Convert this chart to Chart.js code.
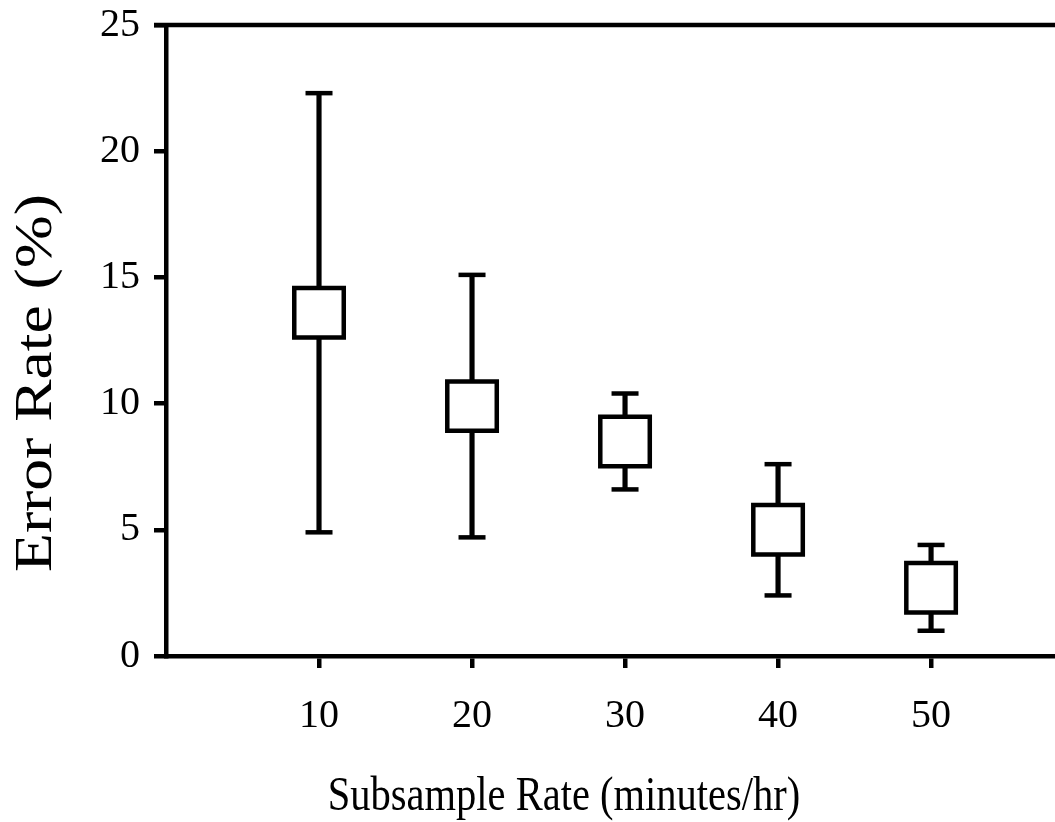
<!DOCTYPE html>
<html>
<head>
<meta charset="utf-8">
<script src="https://cdn.jsdelivr.net/npm/chart.js@4.4.1/dist/chart.umd.min.js"></script>
<style>
  html, body { margin: 0; padding: 0; background: #fff; overflow: hidden; }
  #wrap { width: 1055px; height: 822px; position: relative; }
</style>
</head>
<body>
<div id="wrap"><canvas id="c"></canvas></div>
<script>
// ---- data ----
const subsampleRates = [10, 20, 30, 40, 50];
const meanError      = [13.6, 9.9, 8.5, 5.0, 2.7];
const upperError     = [22.3, 15.1, 10.4, 7.6, 4.4];
const lowerError     = [4.9, 4.7, 6.6, 2.4, 1.0];
const yTicks = [0, 5, 10, 15, 20, 25];
const xTicks = [10, 20, 30, 40, 50];
const yTitle = 'Error Rate (%)';
const xTitle = 'Subsample Rate (minutes/hr)';

const FONT = "'Liberation Serif', 'Times New Roman', serif";

const boxPoints = subsampleRates.map((x, i) => ({ x: x, y: meanError[i] }));
const whiskers  = subsampleRates.map((x, i) => ({ x: x, y: [lowerError[i], upperError[i]] }));
const capPoints = subsampleRates.map((x, i) => ({ x: x, y: upperError[i] }))
                  .concat(subsampleRates.map((x, i) => ({ x: x, y: lowerError[i] })));

// top frame line and the axis titles (drawn as canvas text)
const framePlugin = {
  id: 'framePlugin',
  afterDraw(chart) {
    const { ctx, chartArea } = chart;
    ctx.save();
    ctx.strokeStyle = '#000';
    ctx.lineWidth = 4.5;
    ctx.beginPath();
    ctx.moveTo(chartArea.left - 12, chartArea.top);
    ctx.lineTo(chartArea.right, chartArea.top);
    ctx.stroke();
    ctx.restore();

    // vertical axis title
    ctx.save();
    ctx.translate(37, 383);
    ctx.rotate(-Math.PI / 2);
    ctx.scale(1.2, 1);
    ctx.font = '53px ' + FONT;
    ctx.fillStyle = '#000';
    ctx.textAlign = 'center';
    ctx.textBaseline = 'middle';
    ctx.fillText(yTitle, 0, 0);
    ctx.restore();

    // horizontal axis title
    ctx.save();
    ctx.translate(564, 810);
    ctx.scale(1, 1.2);
    ctx.font = '40.5px ' + FONT;
    ctx.fillStyle = '#000';
    ctx.textAlign = 'center';
    ctx.textBaseline = 'alphabetic';
    ctx.fillText(xTitle, 0, 0);
    ctx.restore();
  }
};

new Chart(document.getElementById('c'), {
  type: 'scatter',
  data: {
    datasets: [
      {
        type: 'scatter',
        data: boxPoints,
        pointStyle: 'rect',
        pointRadius: 35,
        pointHoverRadius: 35,
        pointBackgroundColor: '#fff',
        pointBorderColor: '#000',
        pointBorderWidth: 4.5,
        pointHoverBorderWidth: 4.5
      },
      {
        type: 'scatter',
        data: capPoints,
        pointStyle: 'line',
        pointRadius: 13.5,
        pointHoverRadius: 13.5,
        pointBorderColor: '#000',
        pointBackgroundColor: '#000',
        pointBorderWidth: 4.5,
        pointHoverBorderWidth: 4.5
      },
      {
        type: 'bar',
        data: whiskers,
        backgroundColor: '#000',
        borderWidth: 0,
        barThickness: 4.5,
        grouped: false
      }
    ]
  },
  options: {
    responsive: true,
    maintainAspectRatio: false,
    animation: false,
    layout: { autoPadding: false, padding: { top: 25, left: 0, right: 0, bottom: 0 } },
    plugins: { legend: { display: false }, tooltip: { enabled: false } },
    scales: {
      x: {
        type: 'linear',
        min: 0,
        max: 58.1,
        offset: false,
        afterBuildTicks: (s) => { s.ticks = xTicks.map(v => ({ value: v })); },
        afterFit: (s) => { s.height = 166; s.paddingLeft = 0; s.paddingRight = 0; },
        grid: { offset: false, drawOnChartArea: false, drawTicks: true, tickLength: 12, color: '#000', lineWidth: 4.5 },
        border: { display: true, color: '#000', width: 4.5 },
        ticks: { color: '#000', font: { family: FONT, size: 40 }, padding: 24, maxRotation: 0, autoSkip: false },
        title: { display: false, text: xTitle }
      },
      y: {
        min: 0,
        max: 25,
        afterBuildTicks: (s) => { s.ticks = yTicks.map(v => ({ value: v })); },
        afterFit: (s) => { s.width = 166; s.paddingTop = 0; s.paddingBottom = 0; },
        grid: { drawOnChartArea: false, drawTicks: true, tickLength: 12, color: '#000', lineWidth: 4.5 },
        border: { display: true, color: '#000', width: 4.5 },
        ticks: { color: '#000', font: { family: FONT, size: 40 }, padding: 14 },
        title: { display: false, text: yTitle }
      }
    }
  },
  plugins: [framePlugin]
});
</script>
</body>
</html>
